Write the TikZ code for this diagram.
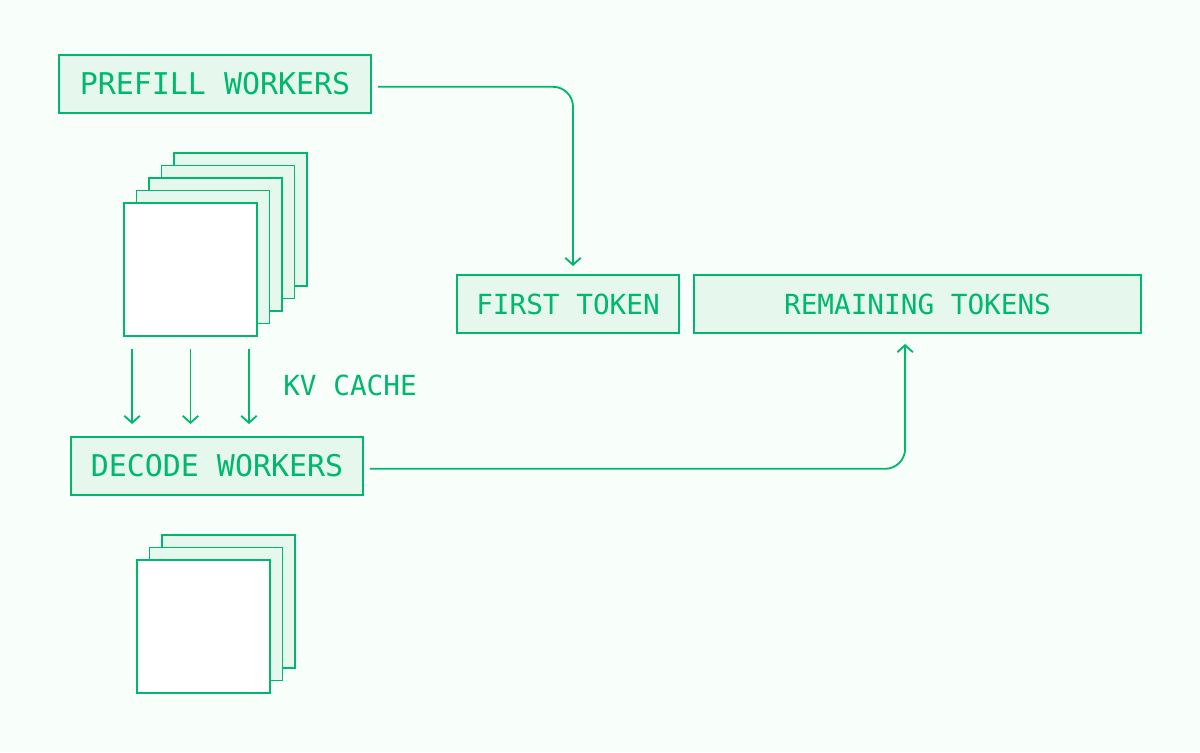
\documentclass[tikz,border=0pt]{standalone}
\usepackage{fontspec}
\newfontfamily\monofont{DejaVu Sans Mono}
\usepackage{tikz}
\usetikzlibrary{arrows.meta}

\definecolor{mintbg}{RGB}{248,255,251}
\definecolor{mintfill}{RGB}{230,248,238}
\definecolor{leaf}{RGB}{0,184,108}

\tikzset{
  box/.style={draw=leaf, fill=mintfill, line width=1.3pt, inner sep=0pt,
    text=leaf, font=\monofont\fontsize{19.7}{22}\selectfont},
  bigbox/.style={box, font=\monofont\fontsize{21.3}{24}\selectfont},
  sheet/.style={draw=leaf, fill=mintfill, line width=1.3pt, inner sep=0pt,
    minimum width=3.325cm, minimum height=3.325cm},
  flow/.style={draw=leaf, line width=1.3pt, rounded corners=0.5cm,
    -{Straight Barb[length=5pt,width=11pt]}}
}

\begin{document}
\begin{tikzpicture}[x=0.025cm, y=-0.025cm]
  % 背景
  \fill[mintbg] (0,0) rectangle (1200,752);
  \useasboundingbox (0,0) rectangle (1200,752);

  % --- 上方：预填充 ---
  \node[bigbox, minimum width=7.8cm, minimum height=1.45cm] (prefill) at (215,84) {PREFILL WORKERS};

  % 预填充卡片堆叠 (从后到前)
  \foreach \i in {4,3,2,1}
    \node[sheet] (pf\i) at (190.5+12.5*\i, 269.5-12.5*\i) {};
  \node[sheet, fill=white] (pf0) at (190.5, 269.5) {};

  % --- 右侧：输出令牌 ---
  \node[box, minimum width=5.55cm, minimum height=1.45cm] (first) at (568,304) {FIRST TOKEN};
  \node[box, minimum width=11.175cm, minimum height=1.45cm] (remaining) at (917.5,304) {REMAINING TOKENS};

  % --- 下方：解码 ---
  \node[bigbox, minimum width=7.3cm, minimum height=1.45cm] (decode) at (217,466) {DECODE WORKERS};

  % 解码卡片堆叠
  \foreach \i in {2,1}
    \node[sheet] (dc\i) at (203.5+12.5*\i, 626.5-12.5*\i) {};
  \node[sheet, fill=white] (dc0) at (203.5, 626.5) {};

  % KV 缓存传输
  \node[text=leaf, font=\monofont\fontsize{19.7}{22}\selectfont] (kv) at (350,385) {KV CACHE};
  \foreach \dx [count=\k] in {-1.46,0,1.46} {
    \coordinate (kv\k) at ([xshift=\dx cm, yshift=-0.3cm]pf0.south);
    \draw[flow] (kv\k) -- ([yshift=0.3cm]kv\k |- decode.north);
  }

  % 连接线
  \draw[flow] ([xshift=0.15cm, yshift=-0.07cm]prefill.east) -| ([xshift=0.125cm, yshift=0.2cm]first.north);
  \draw[flow] ([xshift=0.15cm, yshift=-0.07cm]decode.east) -| ([xshift=-0.31cm, yshift=-0.25cm]remaining.south);
\end{tikzpicture}
\end{document}
